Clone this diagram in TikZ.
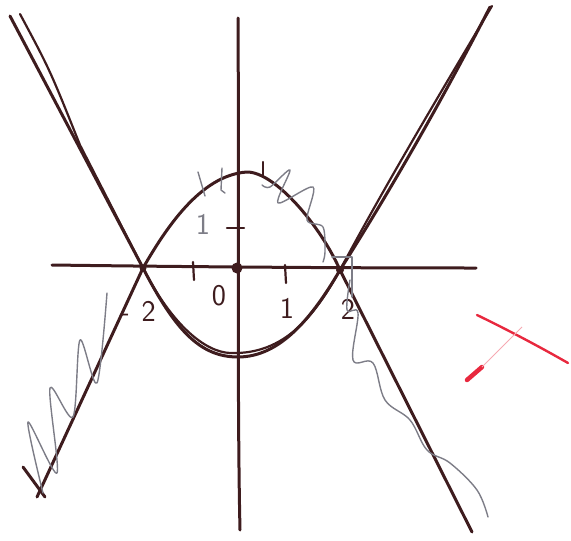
\documentclass[tikz,border=0pt]{standalone}
\definecolor{ink}{RGB}{62,28,30}
\definecolor{pencil}{RGB}{125,125,135}
\definecolor{redpen}{RGB}{232,40,62}
\tikzset{
  inkline/.style={draw=ink,line width=3pt,line cap=round,line join=round},
  inkthin/.style={draw=ink,line width=2.2pt,line cap=round,line join=round},
  pencilline/.style={draw=pencil,line width=1.4pt,line cap=round,line join=round},
  handlabel/.style={text=ink,font=\sffamily\fontsize{30}{30}\selectfont,inner sep=0pt},
}
\begin{document}
\begin{tikzpicture}[x=1pt,y=-1pt]
\useasboundingbox (0,0) rectangle (571,541);
\coordinate (O) at (237,268);
\coordinate (L) at (143,268);
\coordinate (R) at (340,270);
% axes
\draw[inkline] (52,265) .. controls (200,267) and (350,268) .. (476,268);
\draw[inkline] (238,18) .. controls (239,150) and (237,400) .. (240,530);
% V-shaped curve (two strokes)
\draw[inkline] (10,16) -- (L) .. controls (175,330) and (200,357) .. (238,357)
  .. controls (280,357) and (312,318) .. (R) .. controls (400,175) and (450,85) .. (490,7);
\draw[inkthin] (20,14) .. controls (50,70) .. (80,145) -- (L) .. controls (172,325) and (205,352) .. (230,353)
  .. controls (285,355) and (315,315) .. (R) .. controls (380,195) and (430,110) .. (492,6);
% dome curve
\draw[inkline] (37,497) -- (L) .. controls (165,230) and (200,175) .. (247,172)
  .. controls (275,172) and (320,225) .. (R) -- (472,532);
\draw[inkline] (23,467) -- (45,497);
% dots
\fill[ink] (O) circle (5.5);
\fill[ink] (L) circle (3.5);
\fill[ink] (R) circle (4);
% ticks
\draw[inkthin] (193,262) -- (194,280);
\draw[inkthin] (285,265) -- (286,283);
\draw[inkthin] (227,228) -- (244,228);
\draw[inkthin] (263,162) -- (263,175);
\draw[pencilline] (198,172) -- (205,196);
\draw[pencilline] (222,168) -- (221,190) -- (225,193);
% labels
\node[handlabel] (lm2) at (138,311) {-\hspace{12pt}2};
\node[handlabel] (l0) at (219,296) {0};
\node[handlabel] (l1) at (287,308) {1};
\node[handlabel] (l2) at (348,309) {2};
\node[handlabel,text=pencil] (ly1) at (203,224) {1};
% pencil zigzags
\draw[pencilline] plot[smooth,tension=0.5] coordinates {(107,293) (97,383) (80,340) (73,417) (50,388) (57,473) (28,422) (43,493)};
\draw[pencilline] plot[smooth,tension=0.6] coordinates {(350,280) (347,310) (358,313) (353,360) (373,363) (385,400) (410,420) (427,450) (450,463) (477,490) (488,517)};
\draw[pencilline] plot[smooth,tension=0.5] coordinates {(262,185) (270,187) (290,170) (278,203) (313,187) (307,220) (323,227) (325,252) (323,262)};
\draw[pencilline] (332,257) -- (352,257) -- (352,297);
% red mark
\draw[redpen,line width=2.4pt,line cap=round] (477,315) .. controls (510,331) and (540,347) .. (568,363);
\draw[redpen,line width=4.5pt,line cap=round] (467,380) -- (482,367);
\draw[redpen!40,line width=0.8pt] (482,367) -- (522,327);
\end{tikzpicture}
\end{document}
